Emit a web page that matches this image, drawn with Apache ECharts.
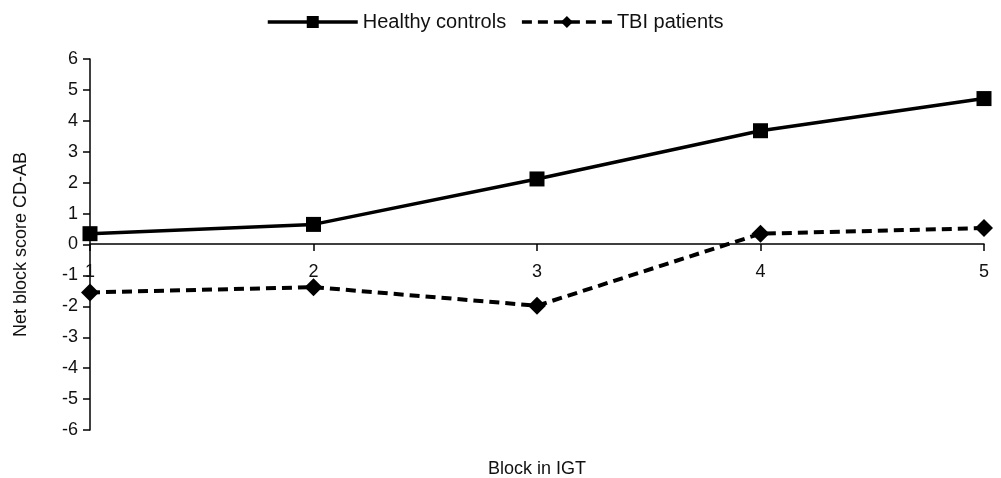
<!DOCTYPE html>
<html lang="en">
<head>
  <meta charset="UTF-8">
  <title>Net block score</title>
  <style type="text/css">
    * { margin: 0; padding: 0; }
    html, body { width: 100%; height: 100%; overflow: hidden; background: #fff; }
    #main { width: 1001px; height: 478px; }
  </style>
  <script type="text/javascript" src="https://cdn.jsdelivr.net/npm/echarts@6/dist/echarts.min.js"></script>
</head>
<body>
<div id="main"></div>
<script type="text/javascript">
  var blocks = ['1', '2', '3', '4', '5'];
  var healthyControls = [0.35, 0.65, 2.12, 3.68, 4.72];
  var tbiPatients = [-1.55, -1.38, -1.98, 0.35, 0.53];
  var yTicks = [-6, -5, -4, -3, -2, -1, 0, 1, 2, 3, 4, 5, 6];

  var font = 'Liberation Sans';
  var myChart = echarts.init(document.getElementById('main'));
  // x axis sits on y = 0, so shift it up from the grid bottom
  var xOffset = -186;
  var option = {
    backgroundColor: '#fff',
    animation: false,
    textStyle: { fontFamily: font, color: '#000' },
    legend: {
      top: 7,
      left: 261,
      itemWidth: 90,
      itemHeight: 15,
      itemGap: 14,
      lineStyle: { width: 3.5 },
      textStyle: { fontFamily: font, fontSize: 20, color: '#111' },
      data: ['Healthy controls', 'TBI patients']
    },
    grid: { left: 90, right: 17, top: 59, bottom: 48, outerBoundsMode: 'none', containLabel: false },
    xAxis: {
      type: 'category',
      data: blocks,
      boundaryGap: false,
      offset: xOffset,
      name: 'Block in IGT',
      nameLocation: 'middle',
      nameGap: 216,
      nameTextStyle: { fontFamily: font, fontSize: 18, color: '#111' },
      axisLine: { onZero: false, lineStyle: { color: '#000', width: 1.5 } },
      axisTick: { show: true, alignWithLabel: true, length: 7, lineStyle: { color: '#000', width: 1.5 } },
      axisLabel: { fontFamily: font, fontSize: 18, color: '#111', margin: 19 },
      splitLine: { show: false }
    },
    yAxis: {
      type: 'value',
      min: yTicks[0],
      max: yTicks[yTicks.length - 1],
      interval: 1,
      name: 'Net block score CD-AB',
      nameLocation: 'middle',
      nameGap: 60,
      nameTextStyle: { fontFamily: font, fontSize: 18, color: '#111' },
      axisLine: { show: true, lineStyle: { color: '#000', width: 1.5 } },
      axisTick: { show: true, length: 7, lineStyle: { color: '#000', width: 1.5 } },
      axisLabel: { fontFamily: font, fontSize: 18, color: '#111', margin: 12 },
      splitLine: { show: false }
    },
    series: [
      {
        name: 'Healthy controls',
        type: 'line',
        data: healthyControls,
        symbol: 'rect',
        symbolSize: 15,
        itemStyle: { color: '#000' },
        lineStyle: { color: '#000', width: 3.5 }
      },
      {
        name: 'TBI patients',
        type: 'line',
        data: tbiPatients,
        symbol: 'diamond',
        symbolSize: 18,
        itemStyle: { color: '#000' },
        lineStyle: { color: '#000', width: 4, type: [10, 6] }
      }
    ]
  };
  myChart.setOption(option);
</script>
</body>
</html>
